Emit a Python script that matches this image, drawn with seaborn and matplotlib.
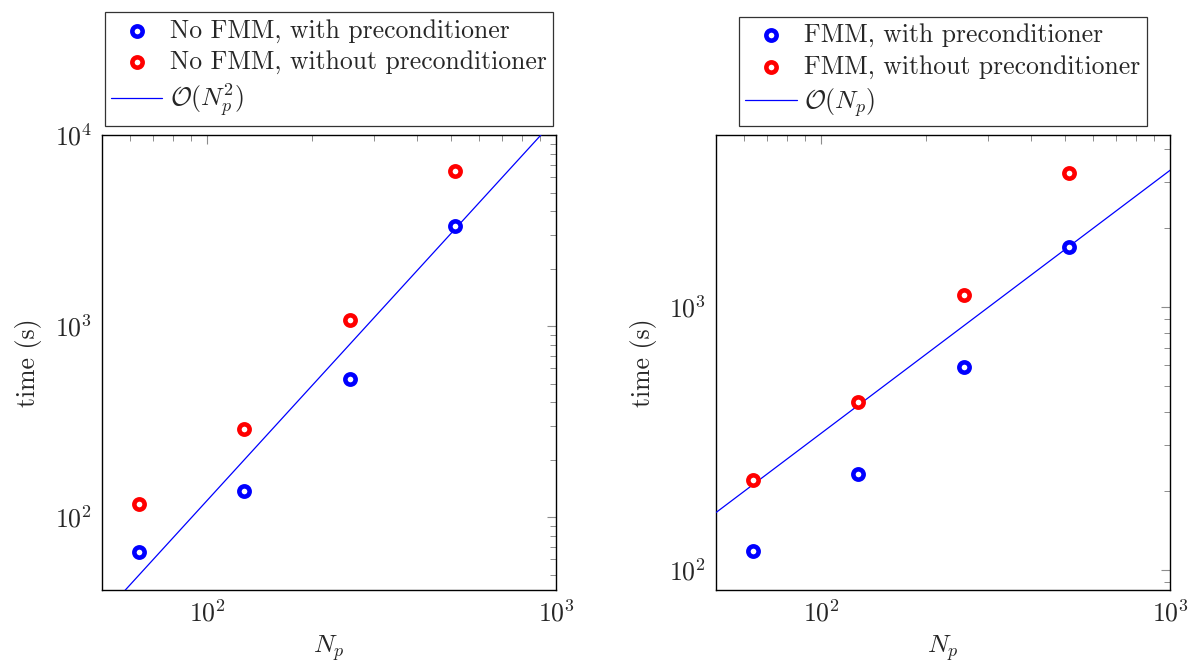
import numpy as np
import matplotlib
matplotlib.use("Agg")
import matplotlib.pyplot as plt
from matplotlib.ticker import NullFormatter, LogLocator
import seaborn as sns

# ---- data ----
Np = [64, 128, 256, 512]
left_with_pre = [66, 137, 525, 3340]
left_without_pre = [117, 289, 1075, 6460]
right_with_pre = [118, 232, 591, 1690]
right_without_pre = [220, 435, 1111, 3237]
left_line_coef = 0.0122   # O(Np^2) reference: coef * Np^2
right_line_coef = 3.31    # O(Np) reference: coef * Np
line_x = [40, 1200]

left_labels = ["No FMM, with preconditioner", "No FMM, without preconditioner", r"$\mathcal{O}(N_p^2)$"]
right_labels = ["FMM, with preconditioner", "FMM, without preconditioner", r"$\mathcal{O}(N_p)$"]

sns.set_style("white")
plt.rcParams["font.family"] = "serif"
plt.rcParams["font.serif"] = ["cmr10", "DejaVu Serif"]
plt.rcParams["mathtext.fontset"] = "cm"
plt.rcParams["axes.formatter.use_mathtext"] = True

fig = plt.figure(figsize=(11.9, 6.64), dpi=100)
W, H = 1190, 664
axL = fig.add_axes([102 / W, (H - 590) / H, 454 / W, 455 / H])
axR = fig.add_axes([716 / W, (H - 590) / H, 454 / W, 455 / H])

FS = 18.5
ms = 7.4
mew = 3.3


def panel(ax, y_with, y_without, line_y, labels, ylim):
    sns.scatterplot(x=Np, y=y_with, ax=ax, marker="o", s=ms ** 2, facecolor="white",
                    edgecolor="blue", linewidth=mew, label=labels[0], zorder=4)
    sns.scatterplot(x=Np, y=y_without, ax=ax, marker="o", s=ms ** 2, facecolor="white",
                    edgecolor="red", linewidth=mew, label=labels[1], zorder=4)
    sns.lineplot(x=line_x, y=line_y, ax=ax, color="blue", linewidth=0.9,
                 label=labels[2], zorder=3)
    ax.set_xscale("log")
    ax.set_yscale("log")
    ax.set_xlim(50, 1000)
    ax.set_ylim(*ylim)
    ax.xaxis.set_minor_locator(LogLocator(base=10, subs=np.arange(2, 10)))
    ax.yaxis.set_minor_locator(LogLocator(base=10, subs=np.arange(2, 10)))
    ax.xaxis.set_minor_formatter(NullFormatter())
    ax.yaxis.set_minor_formatter(NullFormatter())
    ax.tick_params(which="both", direction="in", top=True, right=True,
                   color="0.55", labelsize=FS, pad=7)
    ax.tick_params(which="major", length=6.5, width=0.8)
    ax.tick_params(which="minor", length=4, width=0.7)
    for sp in ax.spines.values():
        sp.set_color("black")
        sp.set_linewidth(1.0)
    ax.set_xlabel(r"$N_p$", fontsize=FS, labelpad=5)
    ax.set_ylabel("time (s)", fontsize=FS, labelpad=9)
    leg = ax.legend(loc="lower center", bbox_to_anchor=(0.5, 1.02), fontsize=FS,
                    frameon=True, fancybox=False, framealpha=1, edgecolor="0.2",
                    borderaxespad=0, handlelength=2.0, handletextpad=0.3,
                    labelspacing=0.3, borderpad=0.25, markerscale=1.0)
    leg.get_frame().set_linewidth(0.9)


panel(axL, left_with_pre, left_without_pre,
      [left_line_coef * v ** 2 for v in line_x], left_labels, (41.5, 1e4))
panel(axR, right_with_pre, right_without_pre,
      [right_line_coef * v for v in line_x], right_labels, (84, 4510))

fig.savefig("out.png", dpi=100)
